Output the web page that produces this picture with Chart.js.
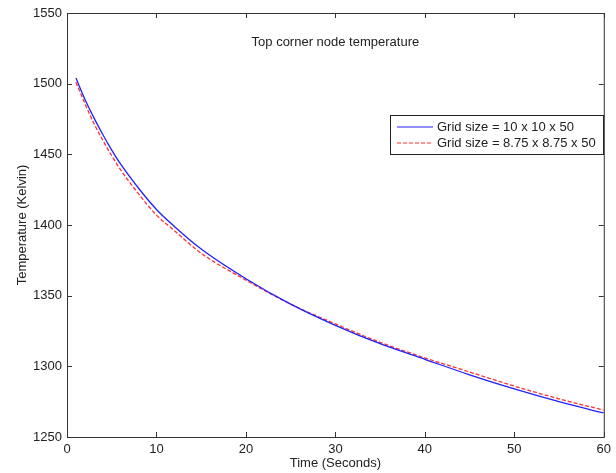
<!DOCTYPE html>
<html>
<head>
<meta charset="utf-8">
<script src="https://cdn.jsdelivr.net/npm/chart.js@4"></script>
<style>
  html, body { margin: 0; padding: 0; background: #fff; }
  #wrap { width: 616px; height: 473px; position: relative; }
</style>
</head>
<body>
<div id="wrap"><canvas id="grafico"></canvas></div>
<script>
const tempos = [1, 2, 3, 4, 5, 6, 8, 10, 12, 15, 20, 25, 30, 35, 40, 45, 50, 55, 60];
const grade10 = [1504, 1489, 1476, 1464, 1453, 1443, 1426, 1411, 1399, 1383, 1362, 1344, 1329, 1316, 1305, 1294, 1284, 1275, 1267];
const grade875 = [1501, 1486, 1472, 1460, 1449, 1439, 1422, 1407, 1396, 1380, 1361, 1344, 1330, 1317, 1306, 1296, 1286, 1277, 1269];
const rotulos = ['Grid size = 10 x 10 x 50', 'Grid size = 8.75 x 8.75 x 50'];
const titulo = 'Top corner node temperature';
const tituloX = 'Time (Seconds)';
const tituloY = 'Temperature (Kelvin)';
const xTicks = [0, 10, 20, 30, 40, 50, 60];
const yTicks = [1250, 1300, 1350, 1400, 1450, 1500, 1550];

const fonte = '"Liberation Sans", Arial, Helvetica, sans-serif';
const corTexto = '#222';

// caixa, ticks para dentro, titulo, legenda e rotulos dos eixos (estilo MATLAB)
const estiloMatlab = {
    id: 'estiloMatlab',
    afterDraw(chart) {
        const ctx = chart.ctx;
        const a = chart.chartArea;
        const sx = chart.scales.x, sy = chart.scales.y;
        ctx.save();
        ctx.strokeStyle = '#333';
        ctx.lineWidth = 1;
        ctx.strokeRect(a.left + 0.5, a.top + 0.5, a.right - a.left, a.bottom - a.top);

        ctx.beginPath();
        xTicks.forEach(v => {
            const px = Math.round(sx.getPixelForValue(v)) + 0.5;
            ctx.moveTo(px, a.bottom); ctx.lineTo(px, a.bottom - 5);
            ctx.moveTo(px, a.top); ctx.lineTo(px, a.top + 5);
        });
        yTicks.forEach(v => {
            const py = Math.round(sy.getPixelForValue(v)) + 0.5;
            ctx.moveTo(a.left, py); ctx.lineTo(a.left + 5, py);
            ctx.moveTo(a.right, py); ctx.lineTo(a.right - 5, py);
        });
        ctx.stroke();

        ctx.fillStyle = corTexto;
        ctx.font = '13px ' + fonte;
        ctx.textAlign = 'center';
        ctx.textBaseline = 'middle';
        ctx.fillText(titulo, (a.left + a.right) / 2, 42);
        ctx.fillText(tituloX, (a.left + a.right) / 2, 463);
        ctx.save();
        ctx.translate(22, (a.top + a.bottom) / 2);
        ctx.rotate(-Math.PI / 2);
        ctx.fillText(tituloY, 0, 0);
        ctx.restore();

        // legenda
        const lx = 390, ly = 115, lw = 213, lh = 39;
        ctx.fillStyle = '#fff';
        ctx.fillRect(lx, ly, lw, lh);
        ctx.strokeStyle = '#222';
        ctx.strokeRect(lx + 0.5, ly + 0.5, lw, lh);
        chart.data.datasets.forEach((ds, i) => {
            const y = ly + 12 + i * 16;
            ctx.beginPath();
            ctx.strokeStyle = ds.borderColor;
            ctx.lineWidth = 1;
            ctx.setLineDash(ds.borderDash || []);
            ctx.moveTo(lx + 7, y); ctx.lineTo(lx + 43, y);
            ctx.stroke();
            ctx.setLineDash([]);
            ctx.fillStyle = corTexto;
            ctx.textAlign = 'left';
            ctx.fillText(ds.label, lx + 47, y);
        });
        ctx.restore();
    }
};

new Chart(document.getElementById('grafico'), {
    type: 'line',
    data: {
        datasets: [{
            label: rotulos[0],
            data: tempos.map((t, i) => ({ x: t, y: grade10[i] })),
            borderColor: '#2020ff',
            borderWidth: 1.3,
            pointRadius: 0,
            cubicInterpolationMode: 'monotone',
            fill: false
        }, {
            label: rotulos[1],
            data: tempos.map((t, i) => ({ x: t, y: grade875[i] })),
            borderColor: '#ff3030',
            borderWidth: 1.3,
            borderDash: [4, 2],
            pointRadius: 0,
            cubicInterpolationMode: 'monotone',
            fill: false
        }]
    },
    options: {
        responsive: true,
        maintainAspectRatio: false,
        animation: false,
        layout: { padding: { top: 13, right: 10, left: 0, bottom: 0 } },
        plugins: { legend: { display: false }, tooltip: { enabled: false } },
        scales: {
            x: {
                type: 'linear', min: 0, max: 60,
                afterFit: s => { s.height = 36; },
                afterBuildTicks: s => { s.ticks = xTicks.map(v => ({ value: v })); },
                grid: { display: false, drawTicks: false },
                border: { display: false },
                ticks: { color: corTexto, font: { family: fonte, size: 13 }, padding: 5, maxRotation: 0,
                    callback: v => String(v) }
            },
            y: {
                type: 'linear', min: 1250, max: 1550,
                afterFit: s => { s.width = 67; },
                afterBuildTicks: s => { s.ticks = yTicks.map(v => ({ value: v })); },
                grid: { display: false, drawTicks: false },
                border: { display: false },
                ticks: { color: corTexto, font: { family: fonte, size: 13 }, padding: 5,
                    callback: v => String(v) }
            }
        }
    },
    plugins: [estiloMatlab]
});
</script>
</body>
</html>
